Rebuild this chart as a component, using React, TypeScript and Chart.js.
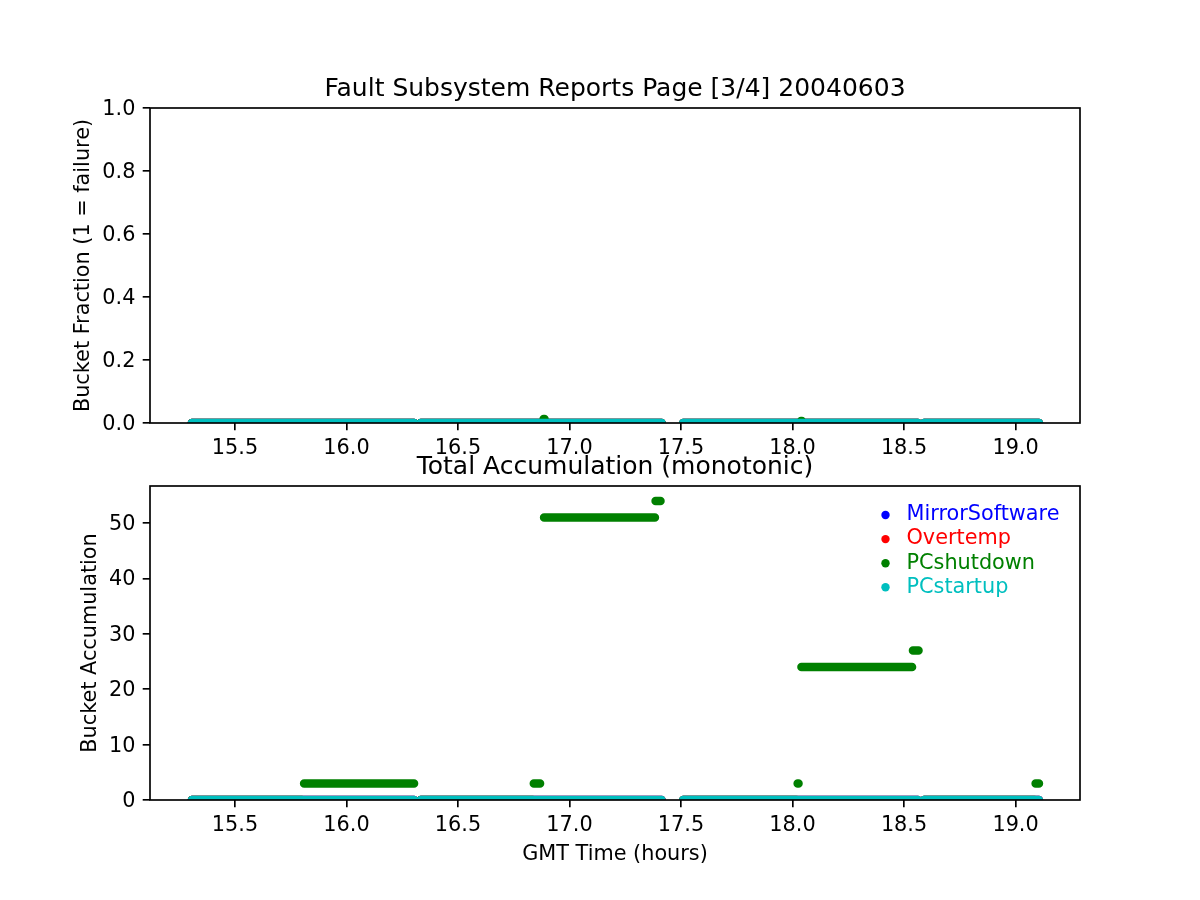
import React, { useEffect, useRef } from "react";
import { Chart, registerables } from "chart.js";

Chart.register(...registerables);

const FONT = '"DejaVu Sans", "Liberation Sans", sans-serif';

// ---- labels ----
const titleTop = "Fault Subsystem Reports Page [3/4] 20040603";
const titleBottom = "Total Accumulation (monotonic)";
const yLabelTop = "Bucket Fraction (1 = failure)";
const yLabelBottom = "Bucket Accumulation";
const xLabel = "GMT Time (hours)";

// ---- series ----
const seriesNames = ["MirrorSoftware", "Overtemp", "PCshutdown", "PCstartup"];
const seriesColors = ["#0000ff", "#ff0000", "#008000", "#00bfbf"];

// ---- axes ----
const xTicks = [15.5, 16.0, 16.5, 17.0, 17.5, 18.0, 18.5, 19.0];
const xMin = 15.119;
const xMax = 19.289;
const fractionTicks = [0.0, 0.2, 0.4, 0.6, 0.8, 1.0];
const fractionMax = 1.0;
const accumTicks = [0, 10, 20, 30, 40, 50];
const accumMax = 56.7;

// ---- data: runs of dense samples [startHour, endHour, value] ----
const mirrorFraction = [[15.307, 16.303, 0], [16.333, 17.413, 0], [17.51, 18.562, 0], [18.59, 19.105, 0]];
const overtempFraction = [[15.307, 16.303, 0], [16.333, 17.413, 0], [17.51, 18.562, 0], [18.59, 19.105, 0]];
const shutdownFraction = [
  [15.307, 16.303, 0], [16.333, 16.878, 0], [16.884, 16.888, 0.013], [16.894, 17.413, 0],
  [17.51, 18.034, 0], [18.038, 18.042, 0.006], [18.046, 18.562, 0], [18.59, 19.105, 0],
];
const startupFraction = [[15.307, 16.303, 0], [16.333, 17.413, 0], [17.51, 18.562, 0], [18.59, 19.105, 0]];

const mirrorAccum = [[15.307, 16.303, 0], [16.333, 17.413, 0], [17.51, 18.562, 0], [18.59, 19.105, 0]];
const overtempAccum = [[15.307, 16.303, 0], [16.333, 17.413, 0], [17.51, 18.562, 0], [18.59, 19.105, 0]];
const shutdownAccum = [
  [15.307, 15.8, 0], [15.81, 16.303, 3], [16.333, 16.835, 0], [16.84, 16.868, 3],
  [16.886, 17.383, 51], [17.386, 17.408, 54], [17.51, 18.018, 0], [18.023, 18.027, 3],
  [18.04, 18.536, 24], [18.54, 18.565, 27], [18.59, 19.085, 0], [19.09, 19.105, 3],
];
const startupAccum = [[15.307, 16.303, 0], [16.333, 17.413, 0], [17.51, 18.562, 0], [18.59, 19.105, 0]];

const fractionSeries = [mirrorFraction, overtempFraction, shutdownFraction, startupFraction];
const accumSeries = [mirrorAccum, overtempAccum, shutdownAccum, startupAccum];

function runsToPoints(runs: number[][]) {
  const pts: { x: number; y: number | null }[] = [];
  runs.forEach(([a, b, v]) => {
    pts.push({ x: a, y: v });
    pts.push({ x: b, y: v });
    pts.push({ x: b, y: null });
  });
  return pts;
}

function makeDatasets(series: number[][][]) {
  return series.map((runs, i) => ({
    label: seriesNames[i],
    data: runsToPoints(runs),
    borderColor: seriesColors[i],
    backgroundColor: seriesColors[i],
    borderWidth: 8.5,
    borderCapStyle: "round" as const,
    borderJoinStyle: "round" as const,
    pointRadius: 0,
    fill: false,
    spanGaps: false,
    clip: 0,
    yAxisID: "y",
    order: series.length - 1 - i,
  }));
}

const framePlugin = {
  id: "frame",
  afterDatasetsDraw(chart: any) {
    const { ctx, chartArea } = chart;
    ctx.save();
    ctx.strokeStyle = "#000";
    ctx.lineWidth = 1.67;
    ctx.strokeRect(chartArea.left, chartArea.top, chartArea.right - chartArea.left, chartArea.bottom - chartArea.top);
    ctx.restore();
  },
};

const legendPlugin = {
  id: "seriesLegend",
  afterDraw(chart: any) {
    const { ctx, chartArea } = chart;
    ctx.save();
    ctx.font = `20.8px ${FONT}`;
    ctx.textBaseline = "middle";
    ctx.textAlign = "left";
    seriesNames.forEach((name, i) => {
      const y = chartArea.top + 29 + i * 24.1;
      ctx.fillStyle = seriesColors[i];
      ctx.beginPath();
      ctx.arc(chartArea.right - 194.5, y, 4.2, 0, Math.PI * 2);
      ctx.fill();
      ctx.fillText(name, chartArea.right - 173.5, y);
    });
    ctx.restore();
  },
};

const tickFont = { family: FONT, size: 20.8, lineHeight: 1 };
const gridOpts = { drawOnChartArea: false, drawTicks: true, tickLength: 7.3, color: "#000", lineWidth: 1.67 };

function xScale(height: number, withTitle: boolean) {
  return {
    type: "linear" as const,
    min: xMin,
    max: xMax,
    afterBuildTicks: (s: any) => {
      s.ticks = xTicks.map((v) => ({ value: v }));
    },
    afterFit: (s: any) => {
      s.height = height;
    },
    ticks: {
      callback: (v: any) => Number(v).toFixed(1),
      font: tickFont,
      color: "#000",
      padding: 8.3,
      maxRotation: 0,
      autoSkip: false,
    },
    grid: gridOpts,
    border: { display: false },
    title: {
      display: withTitle,
      text: xLabel,
      color: "#000",
      font: { family: FONT, size: 20.8, lineHeight: 1 },
      padding: { top: 0, bottom: 35 },
    },
  };
}

function yScale(max: number, ticks: number[], fmt: (v: number) => string, label: string, titlePad: number) {
  return {
    type: "linear" as const,
    position: "left" as const,
    min: 0,
    max,
    afterBuildTicks: (s: any) => {
      s.ticks = ticks.map((v) => ({ value: v }));
    },
    afterFit: (s: any) => {
      s.width = 120;
    },
    ticks: {
      callback: (v: any) => fmt(Number(v)),
      font: tickFont,
      color: "#000",
      padding: 7.3,
      labelOffset: 1.5,
      autoSkip: false,
    },
    grid: gridOpts,
    border: { display: false },
    title: {
      display: true,
      text: label,
      color: "#000",
      font: { family: FONT, size: 20.8, lineHeight: 1 },
      padding: { top: titlePad, bottom: 0 },
    },
  };
}

// invisible spacer axis on the right so the plot area ends at the same place as the reference
const rightSpacer = {
  type: "linear" as const,
  position: "right" as const,
  display: true,
  afterFit: (s: any) => {
    s.width = 120;
  },
  ticks: { display: false },
  grid: { display: false, drawTicks: false },
  border: { display: false },
};

export default function App() {
  const topRef = useRef<HTMLCanvasElement | null>(null);
  const botRef = useRef<HTMLCanvasElement | null>(null);

  useEffect(() => {
    Chart.defaults.font.family = FONT;
    Chart.defaults.color = "#000";

    const top = new Chart(topRef.current as HTMLCanvasElement, {
      type: "line",
      data: { datasets: makeDatasets(fractionSeries) as any },
      options: {
        responsive: false,
        animation: false,
        events: [],
        layout: { padding: { left: 30, right: 0, top: 0, bottom: 0 } },
        plugins: {
          legend: { display: false },
          tooltip: { enabled: false },
          title: {
            display: true,
            text: titleTop,
            color: "#000",
            font: { family: FONT, size: 25, weight: "normal", lineHeight: 1.2 },
            padding: { top: 74, bottom: 4 },
          },
        },
        scales: {
          x: xScale(477, false),
          y: yScale(fractionMax, fractionTicks, (v) => v.toFixed(1), yLabelTop, 43.6),
          yRight: rightSpacer,
        },
      } as any,
      plugins: [framePlugin],
    });

    const bot = new Chart(botRef.current as HTMLCanvasElement, {
      type: "line",
      data: { datasets: makeDatasets(accumSeries) as any },
      options: {
        responsive: false,
        animation: false,
        events: [],
        layout: { padding: { left: 30, right: 0, top: 0, bottom: 0 } },
        plugins: {
          legend: { display: false },
          tooltip: { enabled: false },
          title: {
            display: true,
            text: titleBottom,
            color: "#000",
            font: { family: FONT, size: 25, weight: "normal", lineHeight: 1.2 },
            padding: { top: 452, bottom: 4 },
          },
        },
        scales: {
          x: xScale(100, true),
          y: yScale(accumMax, accumTicks, (v) => String(Math.round(v)), yLabelBottom, 50.1),
          yRight: rightSpacer,
        },
      } as any,
      plugins: [framePlugin, legendPlugin],
    });

    return () => {
      top.destroy();
      bot.destroy();
    };
  }, []);

  const canvasStyle: React.CSSProperties = { position: "absolute", left: 0, top: 0 };
  return (
    <div style={{ position: "absolute", left: 0, top: 0, width: 1200, height: 900, background: "#fff" }}>
      <canvas ref={botRef} width={1200} height={900} style={canvasStyle} />
      <canvas ref={topRef} width={1200} height={900} style={canvasStyle} />
    </div>
  );
}
